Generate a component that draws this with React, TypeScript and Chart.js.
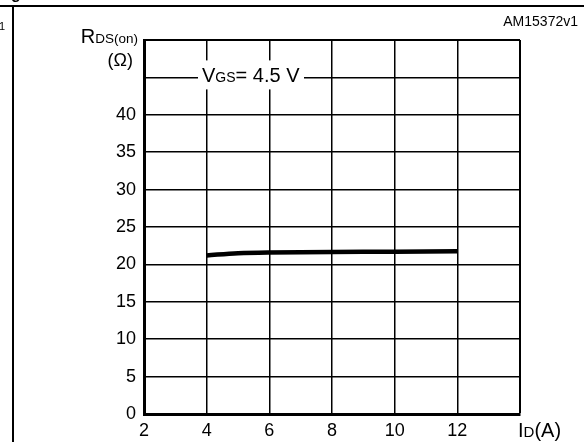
import React, { useEffect, useRef } from "react";
import { Chart, registerables } from "chart.js";

Chart.register(...registerables);

const currentA = [4, 5, 6, 8, 10, 12];
const rdsOhm = [21.2, 21.5, 21.6, 21.65, 21.7, 21.75];
const xTicks = [2, 4, 6, 8, 10, 12];
const yTicks = [0, 5, 10, 15, 20, 25, 30, 35, 40];

const FONT = "'Liberation Sans', Arial, Helvetica, sans-serif";

type Part = { t: string; size: number };

function drawParts(ctx: CanvasRenderingContext2D, parts: Part[], x: number, y: number, align: "left" | "right") {
  ctx.save();
  ctx.textBaseline = "alphabetic";
  ctx.textAlign = "left";
  let total = 0;
  const widths = parts.map((p) => {
    ctx.font = `${p.size}px ${FONT}`;
    const w = ctx.measureText(p.t).width;
    total += w;
    return w;
  });
  let cx = align === "left" ? x : x - total;
  parts.forEach((p, i) => {
    ctx.font = `${p.size}px ${FONT}`;
    ctx.fillText(p.t, cx, y);
    cx += widths[i];
  });
  ctx.restore();
  return total;
}

const decor = {
  id: "decor",
  afterDraw(chart: any) {
    const ctx: CanvasRenderingContext2D = chart.ctx;
    const xs = chart.scales.x;
    const ys = chart.scales.y;
    ctx.save();
    ctx.fillStyle = "#000";
    ctx.strokeStyle = "#000";
    // outer frame fragments
    ctx.lineWidth = 2;
    ctx.beginPath();
    ctx.moveTo(0, 6);
    ctx.lineTo(584, 6);
    ctx.moveTo(13, 6);
    ctx.lineTo(13, 442);
    ctx.stroke();
    ctx.font = `11px ${FONT}`;
    ctx.textAlign = "right";
    ctx.textBaseline = "alphabetic";
    ctx.fillText("1", 5, 30);
    ctx.font = `bold 16px ${FONT}`;
    ctx.textAlign = "left";
    ctx.fillText("g", 11, -1);
    // id label
    ctx.font = `14px ${FONT}`;
    ctx.textAlign = "right";
    ctx.fillText("AM15372v1", 578, 26);
    // VGS label box
    const yv = ys.getPixelForValue(45);
    ctx.fillStyle = "#fff";
    ctx.fillRect(198, yv - 17, 106, 29);
    ctx.fillStyle = "#000";
    drawParts(ctx, [
      { t: "V", size: 20 },
      { t: "GS", size: 14 },
      { t: "= 4.5 V", size: 20 },
    ], 202, yv + 5, "left");
    // y axis title
    drawParts(ctx, [
      { t: "R", size: 20 },
      { t: "DS(on)", size: 13.5 },
    ], 138, 43, "right");
    ctx.font = `18px ${FONT}`;
    ctx.textAlign = "right";
    ctx.fillText("(\u03A9)", 133, 66);
    // x axis title
    const xt = xs.getPixelForValue(14);
    drawParts(ctx, [
      { t: "I", size: 20 },
      { t: "D", size: 15 },
      { t: "(A)", size: 20 },
    ], xt - 2, 437, "left");
    ctx.restore();
  },
};

export default function App() {
  const ref = useRef<HTMLCanvasElement>(null);
  useEffect(() => {
    document.body.style.margin = "0";
    const chart = new Chart(ref.current!, {
      type: "line",
      data: {
        datasets: [
          {
            data: currentA.map((x, i) => ({ x, y: rdsOhm[i] })),
            borderColor: "#000",
            borderWidth: 4.5,
            borderCapStyle: "butt",
            pointRadius: 0,
            tension: 0.35,
            fill: false,
          },
        ],
      },
      options: {
        animation: false,
        responsive: false,
        devicePixelRatio: 1,
        layout: { padding: { left: 0, right: 64, top: 40, bottom: 0 } },
        plugins: { legend: { display: false }, tooltip: { enabled: false } },
        scales: {
          x: {
            type: "linear",
            min: 2,
            max: 14,
            afterBuildTicks: (s: any) => {
              s.ticks = [...xTicks, 14].map((v) => ({ value: v }));
            },
            afterFit: (s: any) => {
              s.height = 28;
            },
            ticks: {
              callback: (v: any) => (xTicks.includes(Number(v)) ? String(v) : ""),
              color: "#000",
              font: { family: FONT, size: 18 },
              padding: 6,
              maxRotation: 0,
              autoSkip: false,
            },
            grid: {
              color: "#000",
              lineWidth: (c: any) => (c.tick && c.tick.value === 14 ? 2 : 1.5),
              drawTicks: false,
            },
            border: { display: true, color: "#000", width: 3 },
          },
          y: {
            type: "linear",
            min: 0,
            max: 50,
            afterBuildTicks: (s: any) => {
              s.ticks = [...yTicks, 45, 50].map((v) => ({ value: v }));
            },
            afterFit: (s: any) => {
              s.width = 144;
            },
            ticks: {
              callback: (v: any) => (yTicks.includes(Number(v)) ? String(v) : ""),
              color: "#000",
              font: { family: FONT, size: 18 },
              padding: 8,
              autoSkip: false,
            },
            grid: {
              color: "#000",
              lineWidth: (c: any) => (c.tick && c.tick.value === 50 ? 2 : 1.5),
              drawTicks: false,
            },
            border: { display: true, color: "#000", width: 3 },
          },
        },
      },
      plugins: [decor],
    } as any);
    return () => chart.destroy();
  }, []);
  return (
    <div style={{ position: "fixed", left: 0, top: 0, width: 584, height: 442, background: "#fff" }}>
      <canvas ref={ref} width={584} height={442} style={{ width: 584, height: 442 }} />
    </div>
  );
}
